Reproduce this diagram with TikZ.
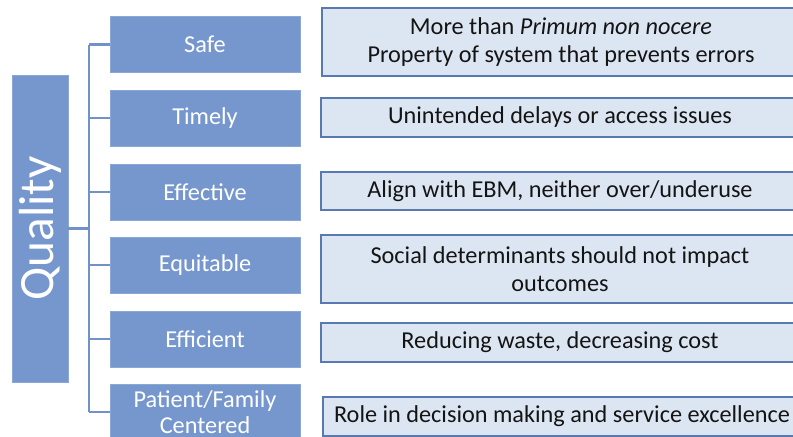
\documentclass[tikz,border=0pt]{standalone}
\usepackage{fontspec}
\setmainfont{Carlito}
\definecolor{leftfill}{RGB}{118,151,206}
\definecolor{linecol}{RGB}{112,146,200}
\definecolor{rightfill}{RGB}{220,230,242}
\definecolor{rightdraw}{RGB}{88,122,176}
\definecolor{txt}{RGB}{20,20,20}
\begin{document}
\begin{tikzpicture}[x=0.75pt,y=-0.75pt,
  lbox/.style={rectangle, fill=leftfill, draw=leftfill!85!white, line width=0.6pt,
    minimum width=190*0.75pt, minimum height=56*0.75pt, inner sep=0pt,
    text=white, font=\fontsize{18.2}{19.5}\selectfont, align=center},
  rbox/.style={rectangle, fill=rightfill, draw=rightdraw, line width=1.1pt,
    minimum width=478*0.75pt, inner sep=0pt, text=txt,
    font=\fontsize{18.2}{21}\selectfont, align=center},
  conn/.style={draw=linecol, line width=1.6pt}]
\useasboundingbox (0,0) rectangle (793,436);
\clip (0,0) rectangle (793,436);
\fill[white] (0,0) rectangle (793,436);
% Quality
\node[rectangle, fill=leftfill, draw=leftfill!85!white, line width=0.6pt, rotate=90,
  minimum width=307*0.75pt, minimum height=56*0.75pt, inner sep=0pt, text=white,
  font=\fontsize{37}{40}\selectfont] (Q) at (40,228.5) {Quality};
% left boxes
\node[lbox] (L1) at (205,44.5) {Safe};
\node[lbox] (L2) at (205,118) {Timely};
\node[lbox] (L3) at (205,192) {Effective};
\node[lbox] (L4) at (205,265) {Equitable};
\node[lbox] (L5) at (205,339) {Efficient};
\node[lbox] (L6) at (205,412) {Patient/Family\\Centered};
% connectors
\coordinate (sp) at (89,0);
\draw[conn] (Q.south) -- (Q.south -| sp);
\draw[conn] (L1.west -| sp) -- (L6.west -| sp);
\foreach \i in {1,...,6} { \draw[conn] (L\i.west -| sp) -- (L\i.west); }
% right boxes
\node[rbox, minimum height=68*0.75pt] (R1) at (561,42) {More than \textit{Primum non nocere}\\Property of system that prevents errors};
\node[rbox, minimum height=39*0.75pt] (R2) at (560,117.5) {Unintended delays or access issues};
\node[rbox, minimum height=38*0.75pt] (R3) at (560,191) {Align with EBM, neither over/underuse};
\node[rbox, minimum height=68*0.75pt] (R4) at (560,269) {Social determinants should not impact\\outcomes};
\node[rbox, minimum height=39*0.75pt] (R5) at (560,342.5) {Reducing waste, decreasing cost};
\node[rbox, minimum height=39*0.75pt] (R6) at (562,416.5) {Role in decision making and service excellence};
\end{tikzpicture}
\end{document}
